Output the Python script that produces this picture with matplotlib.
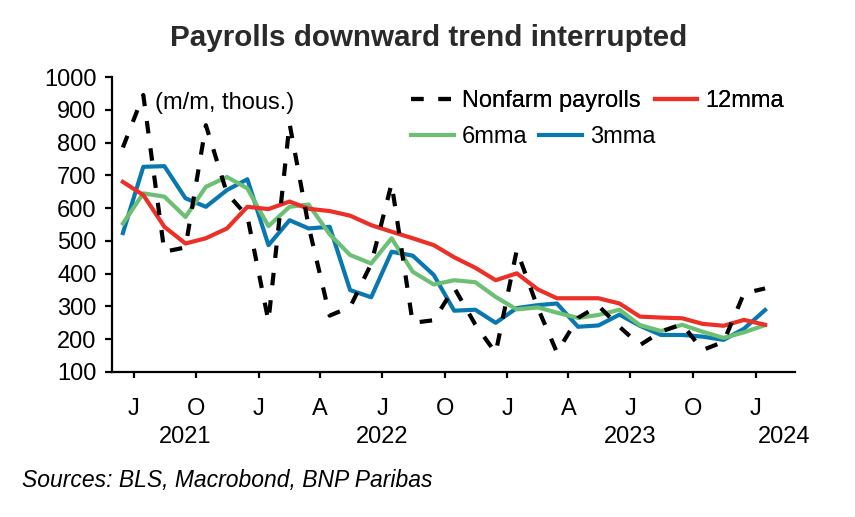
import pandas as pd
import numpy as np
import matplotlib
matplotlib.use("Agg")
import matplotlib.pyplot as plt
import matplotlib.dates as mdates
from matplotlib.transforms import blended_transform_factory

plt.rcParams['font.family'] = ['Liberation Sans', 'DejaVu Sans']

# monthly data, Jun 2021 - Jan 2024 (thous., m/m)
months = pd.date_range('2021-06-01', periods=32, freq='MS') + pd.Timedelta(days=14)

nfp = [785, 945, 467, 480, 853, 645, 575, 255, 858, 545, 272, 298, 430, 675, 250, 258,
       357, 245, 158, 472, 295, 160, 265, 302, 238, 182, 223, 246, 167, 192, 340, 355]
mma3 = [524, 726, 728, 630, 604, 655, 688, 487, 563, 538, 543, 350, 328, 467, 455, 396,
        287, 290, 250, 295, 304, 309, 238, 242, 275, 241, 213, 213, 208, 198, 232, 289]
mma6 = [553, 645, 635, 573, 665, 695, 660, 545, 604, 611, 520, 457, 431, 508, 406, 367,
        380, 374, 329, 291, 297, 281, 265, 274, 290, 243, 225, 244, 223, 204, 221, 243]
mma12 = [680, 640, 543, 492, 508, 538, 604, 597, 620, 598, 591, 577, 548, 528, 508, 487,
         450, 418, 380, 401, 352, 325, 325, 325, 309, 269, 266, 264, 247, 241, 259, 244]

years = ['2021', '2022', '2023', '2024']
year_pos = pd.to_datetime(['2021-09-15', '2022-07-01', '2023-07-01', '2024-02-12'])

RED = '#ec2f27'
GREEN = '#6dbf74'
BLUE = '#0a78b0'

fig = plt.figure(figsize=(8.55, 5.17), dpi=100)
ax = fig.add_axes([112/855, 1-372/517, (795-112)/855, (372-77)/517])

ax.plot(months, mma3, color=BLUE, lw=3, label='3mma', zorder=3)
ax.plot(months, mma6, color=GREEN, lw=3, label='6mma', zorder=3)
ax.plot(months, mma12, color=RED, lw=3, label='12mma', zorder=4)
nfp_line, = ax.plot(months, nfp, color='black', lw=3, dashes=(3.0, 3.6),
                    label='Nonfarm payrolls', zorder=5)

ax.set_ylim(100, 1000)
ax.set_yticks(np.arange(100, 1001, 100))
ax.set_xlim(pd.Timestamp('2021-05-30'), pd.Timestamp('2024-02-28'))

for s in ['top', 'right']:
    ax.spines[s].set_visible(False)
for s in ['left', 'bottom']:
    ax.spines[s].set_linewidth(1.6)

# quarter ticks labelled with month initial, longer ticks at year start
ax.xaxis.set_major_locator(mdates.MonthLocator(bymonth=[1, 4, 7, 10]))
ax.xaxis.set_major_formatter(plt.FuncFormatter(
    lambda v, pos: mdates.num2date(v).strftime('%b')[0]))
ax.xaxis.set_minor_locator(mdates.MonthLocator(bymonth=[1]))
ax.tick_params(axis='x', which='major', length=4.5, width=1.6, pad=14, labelsize=17)
ax.tick_params(axis='x', which='minor', length=9.5, width=1.6)
ax.tick_params(axis='y', length=5, width=1.6, pad=6, labelsize=17)

trans = blended_transform_factory(ax.transData, ax.transAxes)
for yr, xp in zip(years, year_pos):
    ax.text(xp, -0.222, yr, transform=trans, ha='center', va='center', fontsize=17)

leg1 = fig.legend(handles=[nfp_line, ax.lines[2]], loc='center left',
                  bbox_to_anchor=(411/855, 1-101/517), ncol=2, frameon=False,
                  fontsize=17, handlelength=1.8, handletextpad=0.35,
                  columnspacing=0.6, borderpad=0, borderaxespad=0)
leg2 = fig.legend(handles=[ax.lines[1], ax.lines[0]], loc='center left',
                  bbox_to_anchor=(411/855, 1-137/517), ncol=2, frameon=False,
                  fontsize=17, handlelength=1.8, handletextpad=0.35,
                  columnspacing=0.5, borderpad=0, borderaxespad=0)
fig.add_artist(leg1)

fig.text(155/855, 1-103/517, '(m/m, thous.)', fontsize=17, va='center', ha='left')
fig.text(429/855, 1-38/517, 'Payrolls downward trend interrupted', fontsize=21.3,
         fontweight='bold', ha='center', va='center', color='#2a2a2a')
fig.text(22/855, 1-480/517, 'Sources: BLS, Macrobond, BNP Paribas', fontsize=16.5,
         style='italic', ha='left', va='center')

fig.savefig('out.png', dpi=100)
